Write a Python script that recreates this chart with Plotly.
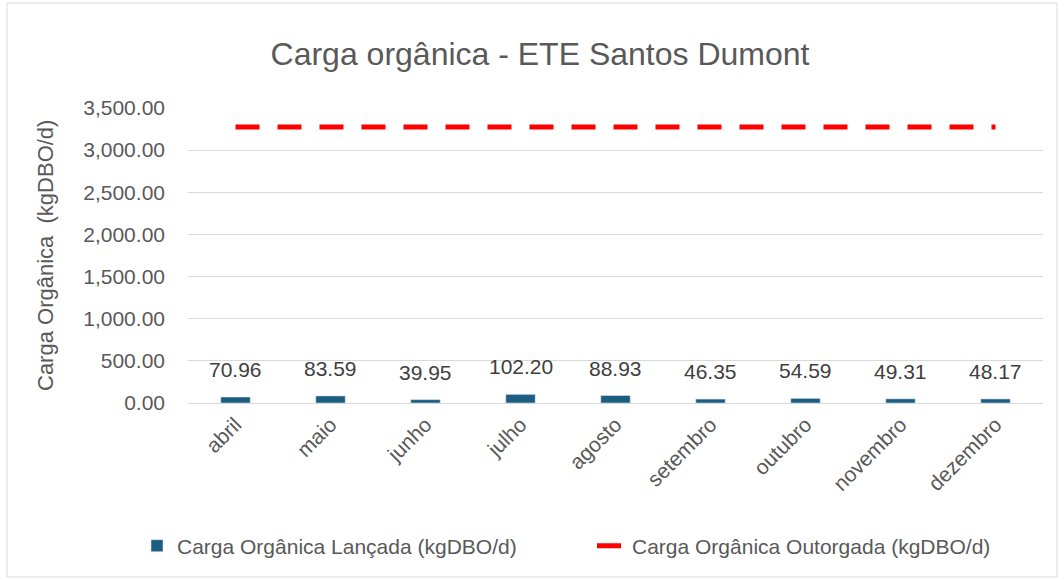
import plotly.graph_objects as go

meses = ["abril", "maio", "junho", "julho", "agosto", "setembro", "outubro", "novembro", "dezembro"]
carga_lancada = [70.96, 83.59, 39.95, 102.20, 88.93, 46.35, 54.59, 49.31, 48.17]
carga_outorgada = [3276.0] * 9

W, H = 1064, 580
L, R, T, B = 188, 1043, 108, 403
pw, ph = R - L, B - T

def px(x):
    return (x - L) / pw

def py(y):
    return (B - y) / ph

FONT = "Liberation Sans"
GREY = "#595959"

fig = go.Figure()
fig.add_trace(go.Bar(
    x=meses, y=carga_lancada, name="Carga Orgânica Lançada (kgDBO/d)",
    marker_color="#1B5E82", width=0.31, legend="legend",
))
fig.add_trace(go.Scatter(
    x=meses, y=carga_outorgada, name="Carga Orgânica Outorgada (kgDBO/d)",
    mode="lines", line=dict(color="#FF0000", width=5, dash="24px,18px"),
    legend="legend2",
))

for m, v in zip(meses, carga_lancada):
    fig.add_annotation(x=m, y=v, text=f"{v:.2f}", showarrow=False,
                       yanchor="bottom", yshift=14,
                       font=dict(family=FONT, size=21, color="#404040"))

fig.add_annotation(x=px(45), y=py(256), xref="paper", yref="paper",
                   xanchor="center", yanchor="middle",
                   text="Carga Orgânica  (kgDBO/d)", textangle=-90, showarrow=False,
                   font=dict(family=FONT, size=22, color=GREY))

fig.add_shape(type="rect", xref="paper", yref="paper",
              x0=px(7), x1=px(1057), y0=py(577), y1=py(3),
              line=dict(color="#D9D9D9", width=1))

legfont = dict(family=FONT, size=21, color=GREY)
fig.update_layout(
    width=W, height=H,
    margin=dict(l=L, r=W - R, t=T, b=H - B),
    paper_bgcolor="white", plot_bgcolor="white",
    title=dict(text="Carga orgânica - ETE Santos Dumont", x=540 / W, xanchor="center",
               y=1 - 54 / H, yanchor="middle",
               font=dict(family=FONT, size=32, color=GREY)),
    showlegend=True,
    legend=dict(orientation="h", x=px(137), xanchor="left", y=py(546), yanchor="middle",
                font=legfont, bgcolor="rgba(0,0,0,0)"),
    legend2=dict(orientation="h", x=px(592), xanchor="left", y=py(546), yanchor="middle",
                 font=legfont, bgcolor="rgba(0,0,0,0)"),
)
fig.update_xaxes(showgrid=False, showline=True, linecolor="#D9D9D9", linewidth=1,
                 tickangle=-45, ticks="",
                 tickfont=dict(family=FONT, size=21, color=GREY))
fig.update_yaxes(range=[0, 3500], dtick=500, tickformat=",.2f",
                 showgrid=True, gridcolor="#D9D9D9", gridwidth=1, zeroline=False,
                 ticks="", ticklabelstandoff=22,
                 tickfont=dict(family=FONT, size=21, color=GREY))

fig.write_html("out.html", config={"displayModeBar": False},
               post_script="document.body.style.margin='0';")
